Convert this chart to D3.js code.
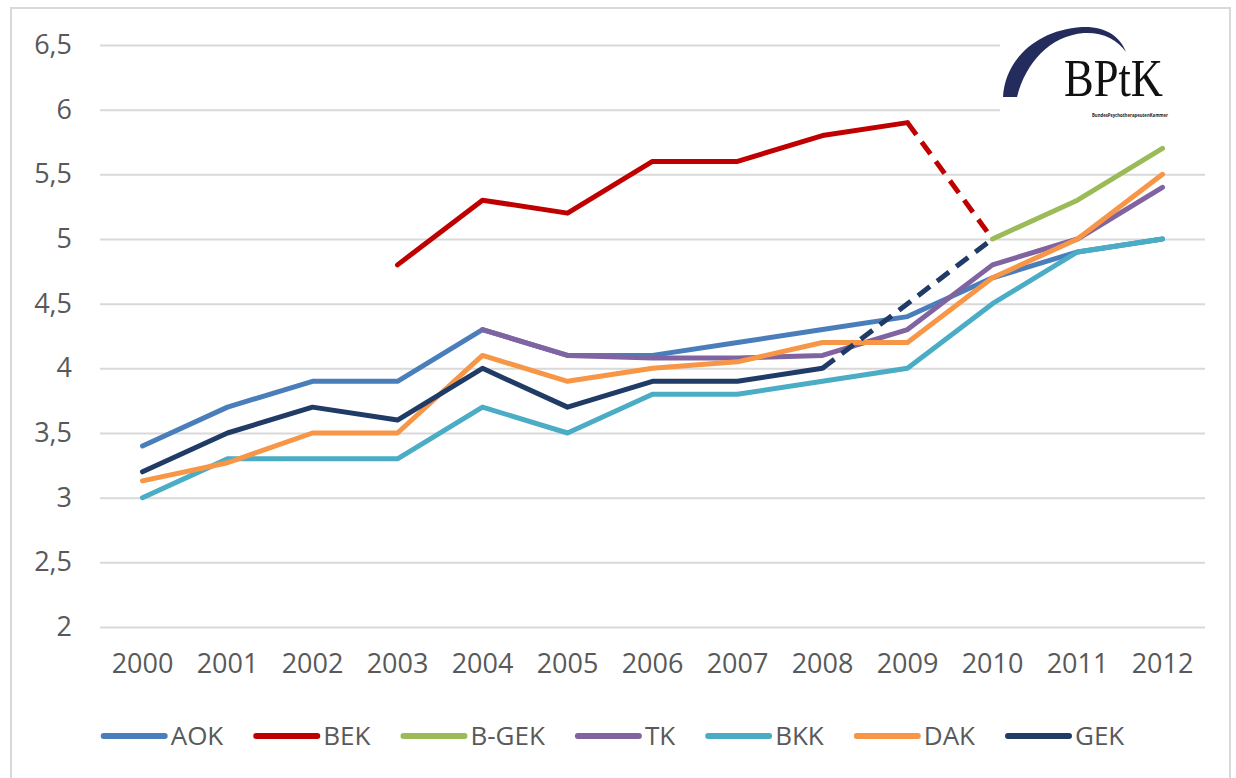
<!DOCTYPE html>
<html>
<head>
<meta charset="utf-8">
<script src="https://cdn.jsdelivr.net/npm/d3@7"></script>
<style>
  body { margin: 0; background: #fff; }
  svg { display: block; }
  text { font-family: "Open Sans", sans-serif; fill: #595959; }
</style>
</head>
<body>
<div id="main_div"></div>
<script>
// years on the x axis
var years = ["2000", "2001", "2002", "2003", "2004", "2005", "2006", "2007", "2008", "2009", "2010", "2011", "2012"];
var y_ticks = [2, 2.5, 3, 3.5, 4, 4.5, 5, 5.5, 6, 6.5];

var names = ["AOK", "BEK", "B-GEK", "TK", "BKK", "DAK", "GEK"];
var colors = ["#4a7ebb", "#c00000", "#9bbb59", "#8064a2", "#4bacc6", "#f79646", "#1f3b66"];

var aok   = [3.4, 3.7, 3.9, 3.9, 4.3, 4.1, 4.1, 4.2, 4.3, 4.4, 4.7, 4.9, 5.0];
var bek   = [null, null, null, 4.8, 5.3, 5.2, 5.6, 5.6, 5.8, 5.9, 5.0, null, null];
var bgek  = [null, null, null, null, null, null, null, null, null, null, 5.0, 5.3, 5.7];
var tk    = [null, null, null, null, 4.3, 4.1, 4.08, 4.08, 4.1, 4.3, 4.8, 5.0, 5.4];
var bkk   = [3.0, 3.3, 3.3, 3.3, 3.7, 3.5, 3.8, 3.8, 3.9, 4.0, 4.5, 4.9, 5.0];
var dak   = [3.13, 3.27, 3.5, 3.5, 4.1, 3.9, 4.0, 4.05, 4.2, 4.2, 4.7, 5.0, 5.5];
var gek   = [3.2, 3.5, 3.7, 3.6, 4.0, 3.7, 3.9, 3.9, 4.0, 4.5, 5.0, null, null];

// index of the year where the line turns dashed (-1 = never)
var dashed_from = [-1, 9, -1, -1, -1, -1, 8];

var all_values = [aok, bek, bgek, tk, bkk, dak, gek];

var W = 1236, H = 778;
var x_scale = d3.scaleBand().domain(years).range([100, 1205]).padding(0);
var y_scale = d3.scaleLinear().domain([2, 6.5]).range([627, 45]);

var svg = d3.select("#main_div").append("svg").attr("width", W).attr("height", H);

// frame
svg.append("rect").attr("x", 11).attr("y", 8).attr("width", 1219).attr("height", 790)
    .attr("fill", "none").attr("stroke", "#d9d9d9").attr("stroke-width", 2);

// y gridlines + labels
var g_y = svg.append("g").attr("transform", "translate(100,0)")
    .call(d3.axisLeft(y_scale).tickValues(y_ticks).tickSize(-1105).tickPadding(28)
        .tickFormat(function(d) { return String(d).replace(".", ","); }));
g_y.select(".domain").remove();
g_y.selectAll("line").attr("stroke", "#d9d9d9").attr("stroke-width", 2);
g_y.selectAll("text").style("font-size", "27px").attr("fill", "#595959").style("font-family", "Open Sans");

// x labels
var g_x = svg.append("g").attr("transform", "translate(0,627)")
    .call(d3.axisBottom(x_scale).tickSize(0).tickPadding(27));
g_x.select(".domain").remove();
g_x.selectAll("text").style("font-size", "27px").attr("fill", "#595959").style("font-family", "Open Sans");

// logo (white box over the grid)
var logo = svg.append("g");
logo.append("rect").attr("x", 1000).attr("y", 18).attr("width", 205).attr("height", 110).attr("fill", "#fff");
logo.append("path")
    .attr("d", "M1003,97 C1005,60 1036,30 1082,27 C1105,26 1120,36 1126,52 C1117,39 1102,32 1084,33 C1050,36 1026,62 1017,97 Z")
    .attr("fill", "#232c5c");
logo.append("text").attr("x", 1064).attr("y", 96).text("BPtK")
    .attr("textLength", 99).attr("lengthAdjust", "spacingAndGlyphs")
    .style("font-family", "Liberation Serif").style("font-size", "52px").style("fill", "#111");
logo.append("text").attr("x", 1092).attr("y", 117)
    .attr("textLength", 76).attr("lengthAdjust", "spacingAndGlyphs")
    .style("font-size", "6px").style("fill", "#222").style("font-weight", "bold")
    .text("BundesPsychotherapeutenKammer");

// lines
var line = d3.line()
    .defined(function(d) { return d.v != null; })
    .x(function(d) { return x_scale(d.year) + x_scale.bandwidth() / 2; })
    .y(function(d) { return y_scale(d.v); });

var plot = svg.append("g");
all_values.forEach(function(vals, i) {
    var pts = vals.map(function(v, j) { return { year: years[j], v: v }; });
    var k = dashed_from[i];
    var solid = k < 0 ? pts : pts.map(function(p, j) { return j <= k ? p : { year: p.year, v: null }; });
    plot.append("path").attr("d", line(solid))
        .attr("fill", "none").attr("stroke", colors[i]).attr("stroke-width", 5)
        .attr("stroke-linecap", "round").attr("stroke-linejoin", "round");
    if (k >= 0) {
        var dash = pts.map(function(p, j) { return j >= k ? p : { year: p.year, v: null }; });
        plot.append("path").attr("d", line(dash))
            .attr("fill", "none").attr("stroke", colors[i]).attr("stroke-width", 5)
            .attr("stroke-dasharray", "15,9").attr("stroke-linejoin", "round");
    }
});

// legend
var legend = svg.append("g");
var lx = 0;
names.forEach(function(n, i) {
    var item = legend.append("g").attr("transform", "translate(" + lx + ",0)");
    item.append("line").attr("x1", 2).attr("x2", 63).attr("y1", 0).attr("y2", 0)
        .attr("stroke", colors[i]).attr("stroke-width", 6).attr("stroke-linecap", "round");
    var t = item.append("text").attr("x", 69).attr("y", 0).attr("dy", "0.35em").text(n)
        .style("font-size", "26px");
    lx += 69 + t.node().getComputedTextLength() + 31;
});
var total = lx - 31;
legend.attr("transform", "translate(" + (613 - total / 2) + ",736)");
</script>
</body>
</html>
